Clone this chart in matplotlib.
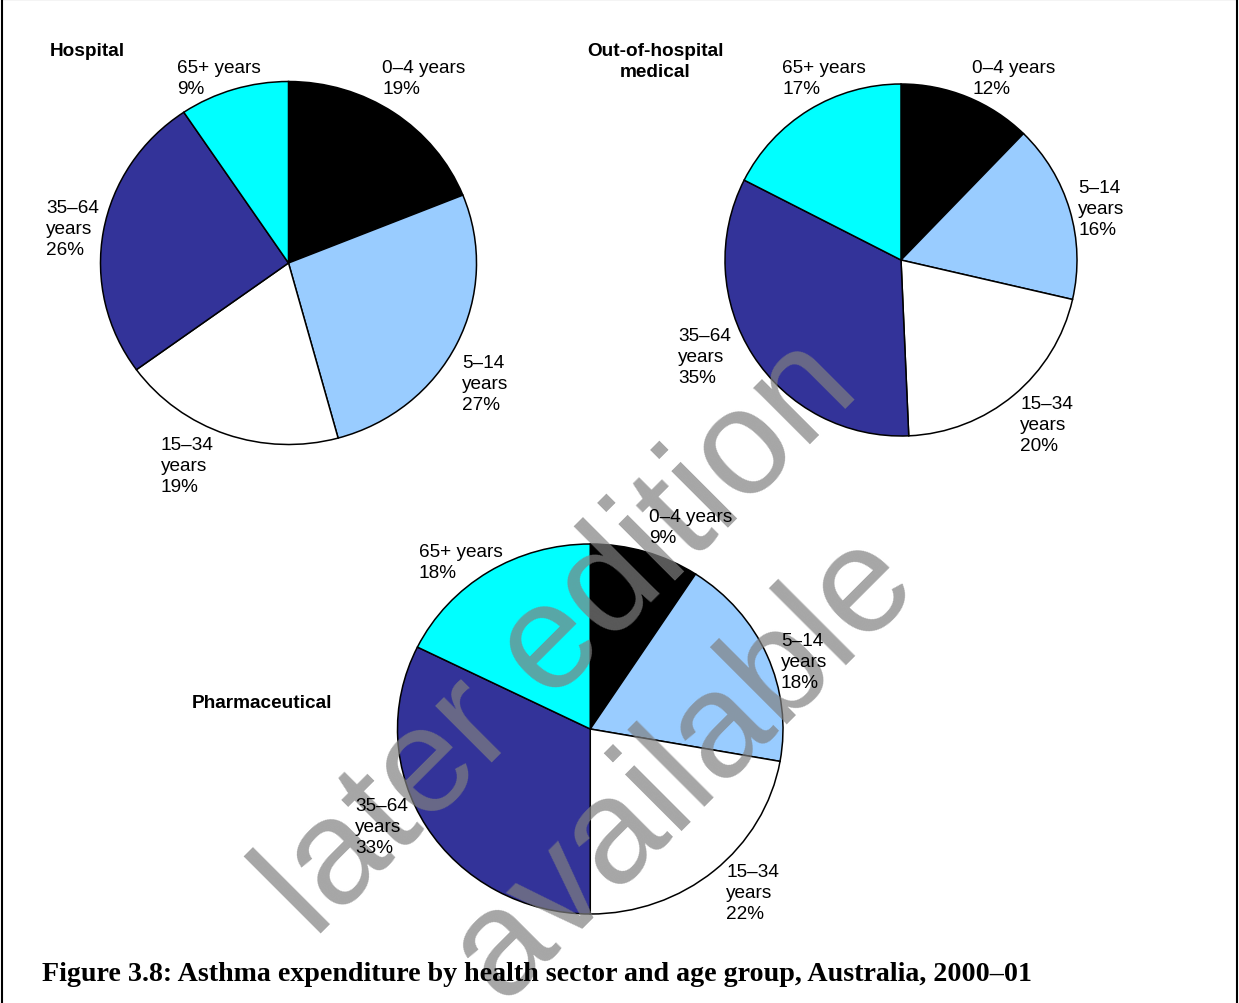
import matplotlib
matplotlib.use("Agg")
import matplotlib.pyplot as plt
from matplotlib.patches import Rectangle

W, H = 1239, 1004

# data: printed percentages by age group
ages = ["0–4 years", "5–14 years", "15–34 years", "35–64 years", "65+ years"]
age_labels = ["0–4 years", "5–14\nyears", "15–34\nyears", "35–64\nyears", "65+ years"]
hospital = [19, 27, 19, 26, 9]
out_of_hospital = [12, 16, 20, 35, 17]
pharmaceutical = [9, 18, 22, 33, 18]

# wedge sizes as drawn (unrounded)
hospital_share = [18.9, 26.85, 19.25, 25.6, 9.4]
out_of_hospital_share = [12.25, 16.35, 20.7, 33.2, 17.5]
pharmaceutical_share = [9.2, 18.6, 22.2, 32.3, 17.7]

colors = ["#000000", "#99ccff", "#ffffff", "#333399", "#00ffff"]

titles = ["Hospital", "Out-of-hospital\nmedical", "Pharmaceutical"]
caption = "Figure 3.8: Asthma expenditure by health sector and age group, Australia, 2000–01"

plt.rcParams["font.family"] = ["Liberation Sans", "DejaVu Sans"]
FS = 13.7

fig = plt.figure(figsize=(W / 100, H / 100), dpi=100)
fig.patch.set_facecolor("white")


def fx(x):
    return x / W


def fy(y):
    return 1 - y / H


def pie_at(vals, left, top, right, bottom):
    ax = fig.add_axes([fx(left), fy(bottom), (right - left) / W, (bottom - top) / H])
    wedges, _ = ax.pie(vals, colors=colors, startangle=90, counterclock=False,
                       wedgeprops=dict(edgecolor="black", linewidth=1.1))
    for w in wedges:
        w.set_clip_on(False)
    ax.set_xlim(-1, 1)
    ax.set_ylim(-1, 1)
    ax.set_aspect("auto")
    ax.axis("off")
    return ax


def labels_at(vals, spots):
    # spots: (x, y) of the top-left of each label, pixels
    for lab, v, (x, y) in zip(age_labels, vals, spots):
        fig.text(fx(x), fy(y), f"{lab}\n{v}%", ha="left", va="top",
                 fontsize=FS, linespacing=1.3, zorder=5)


# Hospital
pie_at(hospital_share, 100.5, 82.5, 476.5, 445.5)
labels_at(hospital, [(382, 60), (462, 355), (161, 437), (46, 200), (177, 60)])
fig.text(fx(50), fy(51), titles[0], ha="left", va="center", fontsize=FS,
         fontweight="bold", zorder=5)

# Out-of-hospital medical
pie_at(out_of_hospital_share, 725, 85, 1077, 437)
labels_at(out_of_hospital, [(972, 60), (1078, 180), (1020, 396), (678, 328), (782, 60)])
fig.text(fx(655), fy(62), titles[1], ha="center", va="center", fontsize=FS,
         fontweight="bold", linespacing=1.3, zorder=5)

# Pharmaceutical
pie_at(pharmaceutical_share, 397.5, 545, 783, 915)
labels_at(pharmaceutical, [(649, 509), (781, 633), (726, 864), (355, 798), (419, 544)])
fig.text(fx(192), fy(704), titles[2], ha="left", va="center", fontsize=FS,
         fontweight="bold", zorder=5)

# watermark
wm = dict(fontsize=108, color=(0.5, 0.5, 0.5), alpha=0.7, rotation=45,
          rotation_mode="anchor", ha="center", va="baseline", zorder=4)
fig.text(fx(588), fy(666), "later edition", **wm)
fig.text(fx(711), fy(793), "available", **wm)

# caption
cap = fig.text(fx(42), fy(975), caption, ha="left", va="center", fontsize=17,
               fontweight="bold", family=["Liberation Serif", "DejaVu Serif"], zorder=5)
r = fig.canvas.get_renderer()
wpx = cap.get_window_extent(renderer=r).width
cap.set_fontsize(17 * 990 / wpx)

# frame round the figure
fig.patches.append(Rectangle((fx(2), fy(1010)), fx(1235), 1010 / H, transform=fig.transFigure,
                             fill=False, edgecolor="black", linewidth=1.5, zorder=6))

fig.savefig("out.png", dpi=100)
